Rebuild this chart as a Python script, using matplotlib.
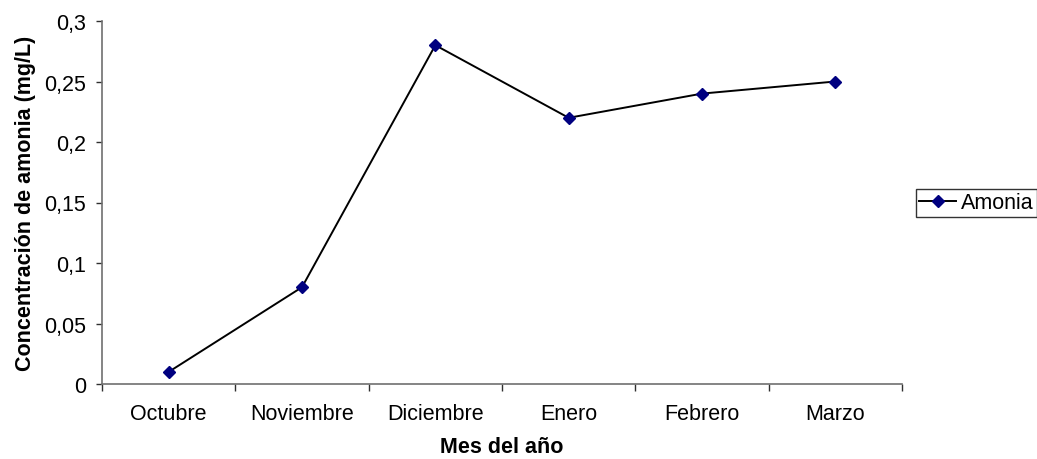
import matplotlib
matplotlib.use("Agg")
import matplotlib.pyplot as plt

months = ["Octubre", "Noviembre", "Diciembre", "Enero", "Febrero", "Marzo"]
amonia = [0.01, 0.08, 0.28, 0.22, 0.24, 0.25]
y_ticks = [0, 0.05, 0.1, 0.15, 0.2, 0.25, 0.3]
y_tick_labels = ["0", "0,05", "0,1", "0,15", "0,2", "0,25", "0,3"]

plt.rcParams["font.family"] = ["Liberation Sans", "DejaVu Sans"]

W, H = 1037, 460
FS = 15.5
fig = plt.figure(figsize=(W / 100, H / 100), dpi=100)
ax = fig.add_axes([102 / W, (H - 385) / H, 800 / W, 363 / H])

x = list(range(len(months)))
line, = ax.plot(x, amonia, color="black", linewidth=1.4, marker="D",
                markersize=6, markerfacecolor="#000080",
                markeredgecolor="#000080", label="Amonia", clip_on=False)

ax.set_xlim(-0.5, len(months) - 0.5)
ax.set_ylim(0, 0.3)
ax.set_yticks(y_ticks)
ax.set_yticklabels(y_tick_labels, fontsize=FS)

# category labels at centres, tick marks at category boundaries
ax.set_xticks(x)
ax.set_xticklabels(months, fontsize=FS)
ax.tick_params(axis="x", which="major", length=0, pad=14)
ax.set_xticks([i - 0.5 for i in range(len(months) + 1)], minor=True)
ax.tick_params(axis="x", which="minor", length=5, width=1, color="#303030", direction="out")
ax.tick_params(axis="y", length=4.5, width=1, color="#303030", direction="out", pad=7)

for side in ("top", "right"):
    ax.spines[side].set_visible(False)
for side in ("left", "bottom"):
    ax.spines[side].set_color("#707070")
    ax.spines[side].set_linewidth(1.2)

ax.set_xlabel("Mes del año", fontsize=FS, fontweight="bold", labelpad=8.5)
ax.set_ylabel("Concentración de amonia (mg/L)", fontsize=FS, fontweight="bold", labelpad=6)

leg = fig.legend(handles=[line], loc="center left", bbox_to_anchor=(916 / W, (H - 204) / H),
                 fontsize=FS, frameon=True, fancybox=False, edgecolor="black",
                 handlelength=1.7, handletextpad=0.25, borderpad=0.15, borderaxespad=0)
leg.get_frame().set_linewidth(1.0)

fig.savefig("out.png", dpi=100)
